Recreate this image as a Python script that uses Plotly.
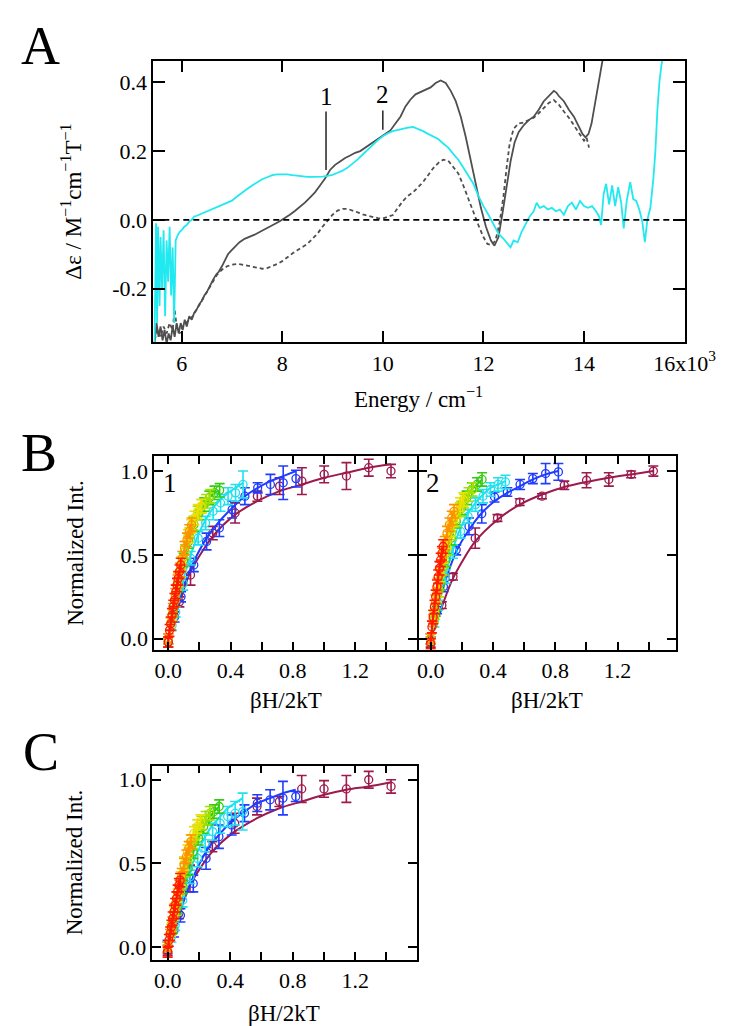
import plotly.graph_objects as go

W, H = 742, 1026
FONT = "Liberation Serif"

# ---------------- Panel A data (Energy in cm^-1, delta-epsilon) ----------------
solid_x = [5460, 5500, 5540, 5580, 5620, 5660, 5700, 5740, 5780, 5820, 5860, 5900, 5940, 5980,
           6020, 6060, 6100, 6150, 6200, 6250, 6300, 6350, 6400, 6450, 6500, 6560, 6620, 6680,
           6740, 6800, 6860, 6920, 6980, 7050, 7150, 7250, 7350, 7450, 7550, 7650, 7750, 7850,
           7950, 8050, 8150, 8250, 8350, 8450, 8550, 8650, 8750, 8850, 8950, 9050, 9150, 9250,
           9350, 9450, 9550, 9650, 9750, 9850, 9950, 10050, 10150, 10250, 10350, 10450, 10550,
           10650, 10750, 10850, 10950, 11050, 11150, 11250, 11350, 11450, 11550, 11650, 11750,
           11850, 11950, 12050, 12150, 12220, 12300, 12380, 12460, 12540, 12620, 12700, 12800,
           12900, 13000, 13100, 13200, 13300, 13400, 13450, 13500, 13600, 13700, 13800, 13900,
           13970, 14030, 14090, 14150, 14200, 14250, 14300, 14350, 14400]
solid_y = [-0.36, -0.30, -0.34, -0.31, -0.35, -0.32, -0.36, -0.33, -0.35, -0.31, -0.34, -0.30, -0.33, -0.30,
           -0.32, -0.29, -0.31, -0.28, -0.29, -0.27, -0.26, -0.245, -0.235, -0.22, -0.21, -0.19, -0.175, -0.16,
           -0.15, -0.135, -0.115, -0.10, -0.09, -0.08, -0.065, -0.055, -0.05, -0.043, -0.035, -0.028, -0.02, -0.012,
           -0.004, 0.005, 0.015, 0.026, 0.038, 0.05, 0.065, 0.08, 0.10, 0.12, 0.145, 0.16, 0.17, 0.18,
           0.187, 0.195, 0.20, 0.21, 0.218, 0.228, 0.238, 0.248, 0.26, 0.28, 0.30, 0.33, 0.35,
           0.365, 0.372, 0.378, 0.385, 0.398, 0.405, 0.398, 0.375, 0.345, 0.30, 0.24, 0.17,
           0.10, 0.035, -0.02, -0.06, -0.075, -0.05, 0.02, 0.10, 0.17, 0.225, 0.255, 0.275,
           0.29, 0.30, 0.32, 0.345, 0.36, 0.375, 0.37, 0.36, 0.345, 0.32, 0.30, 0.27,
           0.25, 0.24, 0.25, 0.28, 0.32, 0.37, 0.41, 0.45, 0.49]

dashed_x = [5460, 5520, 5580, 5640, 5700, 5760, 5820, 5860, 5900, 5960, 6020, 6080, 6150, 6220,
            6300, 6400, 6500, 6600, 6700, 6800, 6900, 7000, 7100, 7200, 7300, 7400, 7500, 7600,
            7700, 7800, 7900, 8000, 8100, 8200, 8300, 8400, 8500, 8600, 8700, 8800, 8900, 9000,
            9100, 9200, 9300, 9400, 9500, 9600, 9700, 9800, 9900, 10000, 10100, 10200, 10300,
            10400, 10500, 10600, 10700, 10800, 10900, 11000, 11100, 11200, 11300, 11400, 11500,
            11600, 11700, 11800, 11900, 12000, 12080, 12160, 12240, 12320, 12400, 12460, 12520,
            12600, 12700, 12800, 12900, 13000, 13100, 13200, 13300, 13400, 13500, 13600, 13700,
            13800, 13900, 14000, 14050, 14100]
dashed_y = [-0.35, -0.32, -0.34, -0.31, -0.33, -0.30, -0.32, -0.26, -0.31, -0.33, -0.31, -0.30, -0.29, -0.28,
            -0.26, -0.235, -0.21, -0.185, -0.16, -0.145, -0.135, -0.13, -0.128, -0.13, -0.133, -0.137, -0.14, -0.142,
            -0.14, -0.135, -0.128, -0.12, -0.108, -0.098, -0.088, -0.078, -0.07, -0.055, -0.04, -0.02, -0.003, 0.015,
            0.027, 0.032, 0.032, 0.028, 0.022, 0.016, 0.012, 0.008, 0.005, 0.004, 0.008, 0.014, 0.035,
            0.055, 0.07, 0.08, 0.095, 0.11, 0.13, 0.15, 0.165, 0.175, 0.172, 0.155, 0.135,
            0.10, 0.06, 0.02, -0.015, -0.05, -0.07, -0.073, -0.06, -0.01, 0.07, 0.15, 0.22,
            0.265, 0.28, 0.283, 0.29, 0.297, 0.31, 0.325, 0.34, 0.348, 0.335, 0.315, 0.297,
            0.275, 0.253, 0.23, 0.24, 0.21]

cyan_x = [5460, 5490, 5510, 5530, 5560, 5580, 5610, 5640, 5670, 5700, 5730, 5760, 5790, 5820, 5850,
          5880, 5920, 5960, 6000, 6050, 6100, 6150, 6200, 6250, 6300, 6400, 6500, 6600, 6700, 6800,
          6900, 7000, 7100, 7200, 7300, 7400, 7500, 7600, 7700, 7800, 7900, 8000, 8100, 8200, 8300,
          8400, 8500, 8600, 8700, 8800, 8900, 9000, 9100, 9200, 9300, 9400, 9500, 9600, 9700, 9800,
          9900, 10000, 10100, 10200, 10300, 10400, 10500, 10600, 10700, 10800, 10900, 11000, 11100,
          11200, 11300, 11400, 11500, 11600, 11700, 11800, 11900, 12000, 12100, 12200, 12300, 12400,
          12480, 12540, 12600, 12680, 12760, 12840, 12920, 13000, 13060, 13120, 13200, 13280, 13360,
          13440, 13520, 13600, 13680, 13760, 13840, 13920, 14000, 14080, 14160, 14240, 14300, 14340,
          14390, 14440, 14500, 14560, 14620, 14680, 14740, 14790, 14850, 14920, 14980, 15040, 15100,
          15160, 15210, 15260, 15320, 15380, 15420, 15460, 15500, 15540, 15580]
cyan_y = [-0.36, -0.01, -0.30, -0.02, -0.25, -0.05, -0.20, -0.03, -0.28, -0.06, -0.18, -0.02, -0.22, -0.08, -0.30,
          -0.06, -0.045, -0.035, -0.03, -0.02, -0.015, -0.005, 0.0, 0.01, 0.012, 0.018, 0.025, 0.032, 0.036, 0.042,
          0.048, 0.056, 0.068, 0.08, 0.09, 0.10, 0.11, 0.118, 0.124, 0.13, 0.132, 0.133, 0.132, 0.13, 0.128,
          0.127, 0.125, 0.125, 0.125, 0.126, 0.128, 0.131, 0.137, 0.143, 0.152, 0.163, 0.176, 0.19, 0.205, 0.218,
          0.232, 0.243, 0.252, 0.258, 0.262, 0.265, 0.268, 0.27, 0.265, 0.258, 0.25, 0.242, 0.235,
          0.222, 0.21, 0.192, 0.175, 0.152, 0.13, 0.105, 0.07, 0.04, 0.015, -0.015, -0.04, -0.055,
          -0.07, -0.08, -0.06, -0.065, -0.035, -0.01, 0.01, 0.025, 0.05, 0.035, 0.04, 0.03, 0.035,
          0.025, 0.03, 0.015, 0.04, 0.05, 0.03, 0.055, 0.04, 0.035, 0.04, 0.025, 0.01, -0.015,
          0.075, 0.105, 0.045, 0.10, 0.04, 0.095, 0.05, -0.025, 0.055, 0.11, 0.06, 0.055, 0.03,
          -0.005, -0.065, 0.0, 0.035, 0.12, 0.20, 0.32, 0.40, 0.45, 0.48]

zero_level = 0.0
mark_labels = ["1", "2"]
mark_x = [8870, 10000]
mark_y0 = [0.145, 0.262]
mark_y1 = [0.315, 0.318]
mark_text_y = [0.36, 0.364]

A_xticks = [6000, 8000, 10000, 12000, 14000, 16000]
A_xticktext = ["6", "8", "10", "12", "14", "16x10<sup>3</sup>"]
A_yticks = [-0.2, 0.0, 0.2, 0.4]
A_yticktext = ["-0.2", "0.0", "0.2", "0.4"]

# ---------------- Panels B and C data (beta H / 2kT, normalized intensity) ----------------
series_names = ["maroon", "blue", "cyan", "green", "lime", "yellow", "orange", "red"]
series_colors = ["#9c1a4c", "#1f3cff", "#1ee0ee", "#33cc11", "#a6e000", "#ece000", "#ff9000", "#ff1a00"]

X_MAROON = [0, 0.0715, 0.143, 0.286, 0.429, 0.572, 0.715, 0.858, 1.001, 1.144, 1.287, 1.43]
X_BLUE = [0, 0.041, 0.082, 0.164, 0.246, 0.328, 0.41, 0.492, 0.574, 0.656, 0.738, 0.82]
X_CYAN = [0, 0.024, 0.048, 0.096, 0.144, 0.192, 0.24, 0.288, 0.336, 0.384, 0.432, 0.48]
X_GREEN = [0, 0.033, 0.066, 0.099, 0.132, 0.165, 0.198, 0.231, 0.264, 0.297, 0.33]
X_LIME = [0, 0.027, 0.054, 0.081, 0.108, 0.135, 0.162, 0.189, 0.216, 0.243, 0.27]
X_YELLOW = [0, 0.021, 0.042, 0.063, 0.084, 0.105, 0.126, 0.147, 0.168, 0.189, 0.21]
X_ORANGE = [0, 0.015, 0.03, 0.045, 0.06, 0.075, 0.09, 0.105, 0.12, 0.135, 0.15]
X_RED = [0, 0.008, 0.016, 0.024, 0.032, 0.04, 0.048, 0.056, 0.064, 0.072, 0.08]

# Panel B, complex 1
B1_MAROON_Y = [-0.02, 0.22, 0.38, 0.63, 0.75, 0.85, 0.91, 0.94, 0.98, 0.97, 1.02, 1.00]
B1_MAROON_E = [0.03, 0.03, 0.06, 0.04, 0.06, 0.03, 0.05, 0.08, 0.05, 0.08, 0.05, 0.04]
B1_MAROON_F = [0, 0.21, 0.40, 0.61, 0.74, 0.82, 0.88, 0.92, 0.96, 0.99, 1.02, 1.04]
B1_BLUE_Y = [0.0, 0.13, 0.25, 0.44, 0.58, 0.66, 0.77, 0.85, 0.90, 0.92, 0.93, 0.955]
B1_BLUE_E = [0.03, 0.03, 0.03, 0.04, 0.05, 0.05, 0.05, 0.05, 0.03, 0.06, 0.10, 0.05]
B1_BLUE_F = [0, 0.14, 0.27, 0.46, 0.60, 0.70, 0.78, 0.85, 0.90, 0.94, 0.97, 1.0]
B1_CYAN_Y = [0, 0.08, 0.16, 0.33, 0.48, 0.60, 0.69, 0.76, 0.81, 0.85, 0.87, 0.92]
B1_CYAN_E = [0.03, 0.03, 0.03, 0.04, 0.04, 0.04, 0.04, 0.05, 0.05, 0.05, 0.05, 0.08]
B1_CYAN_F = [0, 0.09, 0.17, 0.35, 0.50, 0.62, 0.71, 0.78, 0.83, 0.87, 0.90, 0.93]
B1_GREEN_Y = [0, 0.16, 0.32, 0.47, 0.58, 0.68, 0.75, 0.80, 0.84, 0.87, 0.885]
B1_LIME_Y = [0, 0.14, 0.28, 0.41, 0.52, 0.62, 0.69, 0.75, 0.79, 0.82, 0.85]
B1_YELLOW_Y = [0, 0.11, 0.23, 0.35, 0.45, 0.54, 0.61, 0.67, 0.72, 0.76, 0.79]
B1_ORANGE_Y = [0, 0.09, 0.17, 0.26, 0.34, 0.41, 0.48, 0.54, 0.59, 0.64, 0.68]
B1_RED_Y = [-0.02, 0.05, 0.09, 0.14, 0.19, 0.23, 0.28, 0.32, 0.36, 0.40, 0.44]

# Panel B, complex 2
B2_MAROON_Y = [-0.02, 0.20, 0.37, 0.60, 0.72, 0.815, 0.85, 0.915, 0.945, 0.95, 0.98, 1.0]
B2_MAROON_E = [0.03, 0.02, 0.02, 0.06, 0.02, 0.02, 0.015, 0.025, 0.045, 0.04, 0.02, 0.03]
B2_MAROON_F = [0, 0.19, 0.36, 0.58, 0.71, 0.80, 0.86, 0.905, 0.935, 0.96, 0.98, 1.0]
B2_BLUE_Y = [0, 0.17, 0.31, 0.53, 0.67, 0.745, 0.845, 0.875, 0.92, 0.955, 0.985, 0.995]
B2_BLUE_E = [0.03, 0.02, 0.03, 0.03, 0.05, 0.055, 0.03, 0.025, 0.03, 0.03, 0.06, 0.05]
B2_BLUE_F = [0, 0.17, 0.31, 0.52, 0.65, 0.75, 0.82, 0.87, 0.91, 0.95, 0.98, 1.0]
B2_CYAN_Y = [0, 0.10, 0.20, 0.37, 0.52, 0.64, 0.73, 0.80, 0.85, 0.89, 0.92, 0.935]
B2_CYAN_E = [0.03, 0.03, 0.03, 0.04, 0.04, 0.04, 0.04, 0.04, 0.04, 0.04, 0.04, 0.04]
B2_CYAN_F = [0, 0.11, 0.21, 0.39, 0.54, 0.66, 0.75, 0.81, 0.86, 0.90, 0.92, 0.94]
B2_GREEN_Y = [0, 0.17, 0.33, 0.47, 0.60, 0.70, 0.78, 0.84, 0.89, 0.92, 0.95]
B2_LIME_Y = [0, 0.15, 0.29, 0.42, 0.54, 0.63, 0.71, 0.77, 0.82, 0.86, 0.89]
B2_YELLOW_Y = [0, 0.13, 0.26, 0.38, 0.49, 0.58, 0.65, 0.71, 0.76, 0.80, 0.83]
B2_ORANGE_Y = [0, 0.11, 0.22, 0.32, 0.42, 0.50, 0.57, 0.63, 0.68, 0.72, 0.76]
B2_RED_Y = [-0.03, 0.07, 0.13, 0.19, 0.25, 0.31, 0.37, 0.42, 0.47, 0.51, 0.55]

# Panel C
C_MAROON_Y = [-0.02, 0.20, 0.41, 0.60, 0.74, 0.84, 0.87, 0.945, 0.945, 0.945, 1.0, 0.96]
C_MAROON_E = [0.03, 0.03, 0.08, 0.03, 0.06, 0.05, 0.03, 0.08, 0.05, 0.08, 0.05, 0.04]
C_MAROON_F = [0, 0.19, 0.37, 0.57, 0.69, 0.77, 0.83, 0.87, 0.91, 0.94, 0.96, 0.985]
C_BLUE_Y = [0, 0.10, 0.19, 0.38, 0.53, 0.66, 0.73, 0.80, 0.86, 0.88, 0.89, 0.90]
C_BLUE_E = [0.04, 0.04, 0.04, 0.05, 0.065, 0.07, 0.06, 0.05, 0.05, 0.06, 0.10, 0.03]
C_BLUE_F = [0, 0.12, 0.23, 0.42, 0.57, 0.67, 0.75, 0.81, 0.86, 0.89, 0.92, 0.94]
C_CYAN_Y = [0, 0.06, 0.13, 0.28, 0.42, 0.53, 0.62, 0.69, 0.74, 0.78, 0.80, 0.81]
C_CYAN_E = [0.03, 0.03, 0.03, 0.04, 0.04, 0.05, 0.05, 0.05, 0.06, 0.06, 0.07, 0.11]
C_CYAN_F = [0, 0.08, 0.16, 0.31, 0.46, 0.57, 0.66, 0.73, 0.78, 0.83, 0.86, 0.89]
C_GREEN_Y = [0, 0.12, 0.24, 0.36, 0.47, 0.57, 0.65, 0.72, 0.77, 0.81, 0.84]
C_LIME_Y = [0, 0.11, 0.23, 0.35, 0.46, 0.55, 0.63, 0.69, 0.74, 0.77, 0.80]
C_YELLOW_Y = [0, 0.10, 0.20, 0.31, 0.41, 0.50, 0.57, 0.63, 0.68, 0.72, 0.75]
C_ORANGE_Y = [0, 0.07, 0.14, 0.22, 0.29, 0.36, 0.43, 0.49, 0.54, 0.59, 0.63]
C_RED_Y = [-0.03, 0.04, 0.08, 0.12, 0.17, 0.21, 0.25, 0.29, 0.33, 0.37, 0.40]

RAINBOW_ERR = [0.03, 0.035, 0.04, 0.04, 0.04, 0.04, 0.04, 0.04, 0.04, 0.04, 0.04]

BC_xticks = [0.0, 0.4, 0.8, 1.2]
BC_xticktext = ["0.0", "0.4", "0.8", "1.2"]
BC_xminor = [0.2, 0.6, 1.0, 1.4]
BC_yticks = [0.0, 0.5, 1.0]
BC_yticktext = ["0.0", "0.5", "1.0"]

# ---------------- helpers ----------------
def fx(px):
    return px / W

def fy(py):
    return 1 - py / H

fig = go.Figure()

# Panel A traces
fig.add_trace(go.Scatter(x=solid_x, y=solid_y, mode="lines", xaxis="x", yaxis="y",
                         line=dict(color="#4f4f4f", width=1.8), showlegend=False))
fig.add_trace(go.Scatter(x=dashed_x, y=dashed_y, mode="lines", xaxis="x", yaxis="y",
                         line=dict(color="#4f4f4f", width=1.8, dash="4px,3px"), showlegend=False))
fig.add_trace(go.Scatter(x=cyan_x, y=cyan_y, mode="lines", xaxis="x", yaxis="y",
                         line=dict(color="#22e8f0", width=1.8), showlegend=False))

fig.add_shape(type="line", xref="x domain", yref="y", x0=0, x1=1, y0=zero_level, y1=zero_level,
              line=dict(color="black", width=1.6, dash="6px,4px"))
for lab, mx, y0, y1, ty in zip(mark_labels, mark_x, mark_y0, mark_y1, mark_text_y):
    fig.add_shape(type="line", xref="x", yref="y", x0=mx, x1=mx, y0=y0, y1=y1,
                  line=dict(color="black", width=1.3))
    fig.add_annotation(x=mx, y=ty, xref="x", yref="y", text=lab, showarrow=False,
                       font=dict(family=FONT, size=25, color="black"))

# Panels B/C traces
def add_panel(xa, ya, data):
    for xs, ys, es, fs, col in data:
        fit_y = fs if fs is not None else ys
        fig.add_trace(go.Scatter(x=xs, y=fit_y, mode="lines", xaxis=xa, yaxis=ya,
                                 line=dict(color=col, width=2, shape="spline", smoothing=0.8),
                                 showlegend=False, hoverinfo="skip"))
        fig.add_trace(go.Scatter(x=xs, y=ys, mode="markers", xaxis=xa, yaxis=ya,
                                 marker=dict(symbol="circle-open", size=8, color=col,
                                             line=dict(width=1.3, color=col)),
                                 error_y=dict(type="data", array=es, color=col, thickness=1.6, width=5),
                                 showlegend=False))

c = dict(zip(series_names, series_colors))

add_panel("x2", "y2", [
    (X_MAROON, B1_MAROON_Y, B1_MAROON_E, B1_MAROON_F, c["maroon"]),
    (X_BLUE, B1_BLUE_Y, B1_BLUE_E, B1_BLUE_F, c["blue"]),
    (X_CYAN, B1_CYAN_Y, B1_CYAN_E, B1_CYAN_F, c["cyan"]),
    (X_GREEN, B1_GREEN_Y, RAINBOW_ERR, None, c["green"]),
    (X_LIME, B1_LIME_Y, RAINBOW_ERR, None, c["lime"]),
    (X_YELLOW, B1_YELLOW_Y, RAINBOW_ERR, None, c["yellow"]),
    (X_ORANGE, B1_ORANGE_Y, RAINBOW_ERR, None, c["orange"]),
    (X_RED, B1_RED_Y, RAINBOW_ERR, None, c["red"]),
])
add_panel("x3", "y3", [
    (X_MAROON, B2_MAROON_Y, B2_MAROON_E, B2_MAROON_F, c["maroon"]),
    (X_BLUE, B2_BLUE_Y, B2_BLUE_E, B2_BLUE_F, c["blue"]),
    (X_CYAN, B2_CYAN_Y, B2_CYAN_E, B2_CYAN_F, c["cyan"]),
    (X_GREEN, B2_GREEN_Y, RAINBOW_ERR, None, c["green"]),
    (X_LIME, B2_LIME_Y, RAINBOW_ERR, None, c["lime"]),
    (X_YELLOW, B2_YELLOW_Y, RAINBOW_ERR, None, c["yellow"]),
    (X_ORANGE, B2_ORANGE_Y, RAINBOW_ERR, None, c["orange"]),
    (X_RED, B2_RED_Y, RAINBOW_ERR, None, c["red"]),
])
add_panel("x4", "y4", [
    (X_MAROON, C_MAROON_Y, C_MAROON_E, C_MAROON_F, c["maroon"]),
    (X_BLUE, C_BLUE_Y, C_BLUE_E, C_BLUE_F, c["blue"]),
    (X_CYAN, C_CYAN_Y, C_CYAN_E, C_CYAN_F, c["cyan"]),
    (X_GREEN, C_GREEN_Y, RAINBOW_ERR, None, c["green"]),
    (X_LIME, C_LIME_Y, RAINBOW_ERR, None, c["lime"]),
    (X_YELLOW, C_YELLOW_Y, RAINBOW_ERR, None, c["yellow"]),
    (X_ORANGE, C_ORANGE_Y, RAINBOW_ERR, None, c["orange"]),
    (X_RED, C_RED_Y, RAINBOW_ERR, None, c["red"]),
])

# ---------------- axes ----------------
TICKFONT = dict(family=FONT, size=22, color="black")

def axis(**kw):
    base = dict(showline=True, linecolor="black", linewidth=1.6, mirror="ticks", ticks="inside",
                tickcolor="black", tickwidth=1.5, showgrid=False, zeroline=False,
                tickfont=TICKFONT, tickmode="array")
    base.update(kw)
    return base

def bc_x(dom, rng, anchor):
    return axis(domain=dom, range=rng, anchor=anchor, tickvals=BC_xticks, ticktext=BC_xticktext,
                ticklen=8, minor=dict(tickmode="array", tickvals=BC_xminor, ticks="inside",
                                      ticklen=8, tickwidth=1.5, tickcolor="black"))

def outer_y(overlay, anchor, dom, rng):
    # short outward stubs so the left ticks cross the axis line, as in the reference
    return dict(overlaying=overlay, anchor=anchor, side="left", domain=dom, range=rng,
                tickmode="array", tickvals=BC_yticks, ticks="outside", ticklen=5,
                tickwidth=1.5, tickcolor="black", showticklabels=False, showline=False,
                showgrid=False, zeroline=False)

B_dom_y = [fy(643), fy(449)]
B_rng_y = [-0.0655, 1.089]
C_dom_y = [fy(954), fy(759)]
C_rng_y = [-0.078, 1.085]

layout = dict(
    width=W, height=H, margin=dict(l=0, r=0, t=0, b=0),
    paper_bgcolor="white", plot_bgcolor="white", showlegend=False,
    xaxis=axis(domain=[fx(151), fx(707)], range=[5435, 16000], anchor="y",
               tickvals=A_xticks, ticktext=A_xticktext, ticklen=12),
    yaxis=axis(domain=[fy(335), fy(52.7)], range=[-0.356, 0.463], anchor="x",
               tickvals=A_yticks, ticktext=A_yticktext, ticklen=12),
    xaxis2=bc_x([fx(152), fx(427)], [-0.09, 1.597], "y2"),
    yaxis2=axis(domain=B_dom_y, range=B_rng_y, anchor="x2",
                tickvals=BC_yticks, ticktext=BC_yticktext, ticklen=9),
    xaxis3=bc_x([fx(428.6), fx(698)], [-0.078, 1.575], "y3"),
    yaxis3=axis(domain=B_dom_y, range=B_rng_y, anchor="x3",
                tickvals=BC_yticks, ticktext=BC_yticktext, ticklen=9, showticklabels=False),
    xaxis4=bc_x([fx(150), fx(426.5)], [-0.098, 1.593], "y4"),
    yaxis4=axis(domain=C_dom_y, range=C_rng_y, anchor="x4",
                tickvals=BC_yticks, ticktext=BC_yticktext, ticklen=9),
    yaxis5=outer_y("y2", "x2", B_dom_y, B_rng_y),
    yaxis6=outer_y("y4", "x4", C_dom_y, C_rng_y),
)
fig.update_layout(**layout)

# ---------------- text annotations ----------------
def txt(x, y, s, size, angle=0):
    fig.add_annotation(x=fx(x), y=fy(y), xref="paper", yref="paper", text=s, showarrow=False,
                       textangle=angle, xanchor="center", yanchor="middle",
                       font=dict(family=FONT, size=size, color="black"))

txt(33, 38, "A", 54)
txt(31, 446, "B", 54)
txt(34, 745, "C", 54)
txt(429, 390, "Energy / cm<sup>−1</sup>", 23)
txt(66, 194, "Δε / M<sup>−1</sup>cm<sup>−1</sup>T<sup>−1</sup>", 23, -90)
txt(290, 694, "βH/2kT", 23)
txt(563, 694, "βH/2kT", 23)
txt(288, 1007, "βH/2kT", 23)
txt(70, 546, "Normalized Int.", 23, -90)
txt(68, 856, "Normalized Int.", 23, -90)
txt(168, 476, "1", 27)
txt(444, 476, "2", 27)

fig.write_html("out.html")
